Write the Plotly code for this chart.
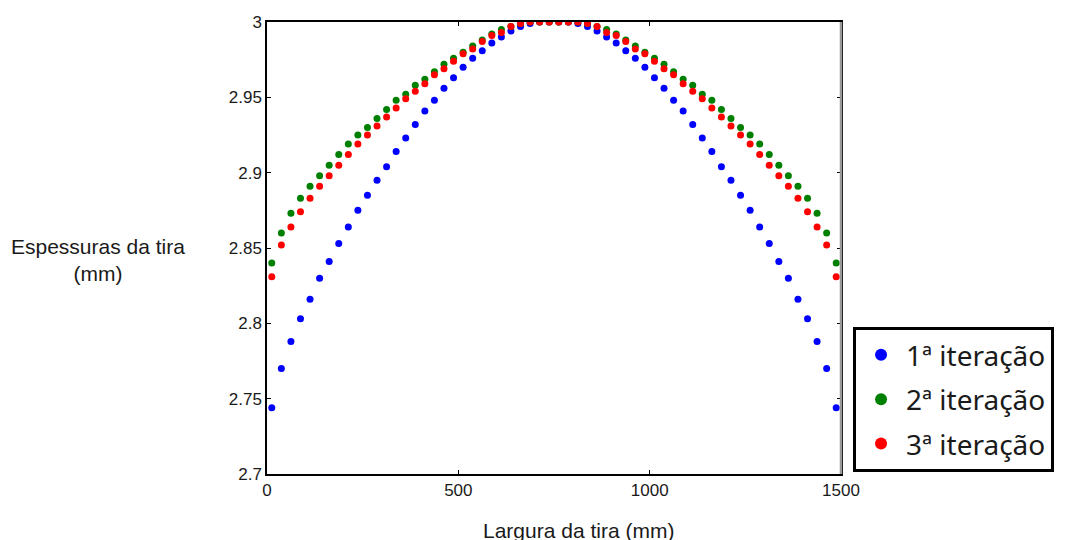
import plotly.graph_objects as go

x_mm = [12.5, 37.5, 62.5, 87.5, 112.5, 137.5, 162.5, 187.5, 212.5, 237.5,
        262.5, 287.5, 312.5, 337.5, 362.5, 387.5, 412.5, 437.5, 462.5, 487.5,
        512.5, 537.5, 562.5, 587.5, 612.5, 637.5, 662.5, 687.5, 712.5, 737.5,
        762.5, 787.5, 812.5, 837.5, 862.5, 887.5, 912.5, 937.5, 962.5, 987.5,
        1012.5, 1037.5, 1062.5, 1087.5, 1112.5, 1137.5, 1162.5, 1187.5, 1212.5, 1237.5,
        1262.5, 1287.5, 1312.5, 1337.5, 1362.5, 1387.5, 1412.5, 1437.5, 1462.5, 1487.5]

iter1 = [2.744, 2.770, 2.788, 2.803, 2.816, 2.830, 2.841, 2.853, 2.864, 2.875,
         2.885, 2.895, 2.904, 2.914, 2.923, 2.932, 2.941, 2.948, 2.956, 2.963,
         2.970, 2.976, 2.981, 2.986, 2.990, 2.994, 2.997, 2.999, 3.000, 3.000,
         3.000, 3.000, 2.999, 2.997, 2.994, 2.990, 2.986, 2.981, 2.976, 2.970,
         2.963, 2.956, 2.948, 2.941, 2.932, 2.923, 2.914, 2.904, 2.895, 2.885,
         2.875, 2.864, 2.853, 2.841, 2.830, 2.816, 2.803, 2.788, 2.770, 2.744]

iter2 = [2.840, 2.860, 2.873, 2.883, 2.891, 2.898, 2.905, 2.912, 2.919, 2.925,
         2.930, 2.936, 2.942, 2.948, 2.952, 2.958, 2.962, 2.967, 2.972, 2.976,
         2.980, 2.984, 2.988, 2.992, 2.995, 2.997, 2.999, 3.000, 3.000, 3.000,
         3.000, 3.000, 3.000, 2.999, 2.997, 2.995, 2.992, 2.988, 2.984, 2.980,
         2.976, 2.972, 2.967, 2.962, 2.958, 2.952, 2.948, 2.942, 2.936, 2.930,
         2.925, 2.919, 2.912, 2.905, 2.898, 2.891, 2.883, 2.873, 2.860, 2.840]

iter3 = [2.831, 2.852, 2.864, 2.874, 2.883, 2.891, 2.898, 2.905, 2.912, 2.919,
         2.925, 2.931, 2.937, 2.943, 2.949, 2.954, 2.959, 2.965, 2.969, 2.974,
         2.979, 2.982, 2.987, 2.991, 2.993, 2.997, 2.999, 3.000, 3.000, 3.000,
         3.000, 3.000, 3.000, 2.999, 2.997, 2.993, 2.991, 2.987, 2.982, 2.979,
         2.974, 2.969, 2.965, 2.959, 2.954, 2.949, 2.943, 2.937, 2.931, 2.925,
         2.919, 2.912, 2.905, 2.898, 2.891, 2.883, 2.874, 2.864, 2.852, 2.831]

series_names = ["1ª iteração", "2ª iteração", "3ª iteração"]
series_colors = ["#0000FF", "#008000", "#FF0000"]

y_ticks = [2.7, 2.75, 2.8, 2.85, 2.9, 2.95, 3.0]
y_ticktext = ["2.7", "2.75", "2.8", "2.85", "2.9", "2.95", "3"]
x_ticks = [0, 500, 1000, 1500]
x_ticktext = ["0", "500", "1000", "1500"]

fig = go.Figure()
for i, (name, ys, col) in enumerate(zip(series_names, [iter1, iter2, iter3], series_colors)):
    fig.add_trace(go.Scatter(x=x_mm, y=ys, mode="markers", name=name,
                             legendgroup=f"g{i}",
                             marker=dict(color=col, size=7, line=dict(width=0))))

fig.update_layout(
    width=1070, height=540,
    margin=dict(l=259, r=237, t=14, b=74, autoexpand=False),
    plot_bgcolor="white", paper_bgcolor="white",
    font=dict(family="Liberation Sans, Arial, sans-serif", size=17, color="#1a1a1a"),
    showlegend=True,
    legend=dict(x=1.021, y=0.325, xanchor="left", yanchor="top",
                bordercolor="black", borderwidth=3, bgcolor="white",
                font=dict(family="Noto Sans", size=28, color="#1a1a1a"),
                itemsizing="constant", itemwidth=40, tracegroupgap=5),
    xaxis=dict(range=[0, 1500], tickvals=x_ticks, ticktext=x_ticktext,
               showgrid=False, zeroline=False, showline=True, linecolor="black",
               linewidth=1.5, mirror="ticks", ticks="inside", ticklen=4,
               tickcolor="black", automargin=False),
    yaxis=dict(range=[2.7, 3.0], tickvals=y_ticks, ticktext=y_ticktext,
               showgrid=False, zeroline=False, showline=True, linecolor="black",
               linewidth=1.5, mirror="ticks", ticks="inside", ticklen=4,
               tickcolor="black", automargin=False),
)

fig.add_shape(type="line", xref="paper", yref="paper", x0=1, x1=1, y0=0, y1=1,
              line=dict(color="#999999", width=2.5), layer="above")

fig.add_annotation(text="Espessuras da tira<br>(mm)", xref="paper", yref="paper",
                   x=-0.2944, y=0.473, xanchor="center", yanchor="middle",
                   showarrow=False, align="center",
                   font=dict(size=21, color="#1a1a1a"))

fig.add_annotation(text="Largura da tira (mm)", xref="paper", yref="paper",
                   x=0.542, y=-0.124, xanchor="center", yanchor="middle",
                   showarrow=False, font=dict(size=21, color="#1a1a1a"))

fig.write_html("out.html")
